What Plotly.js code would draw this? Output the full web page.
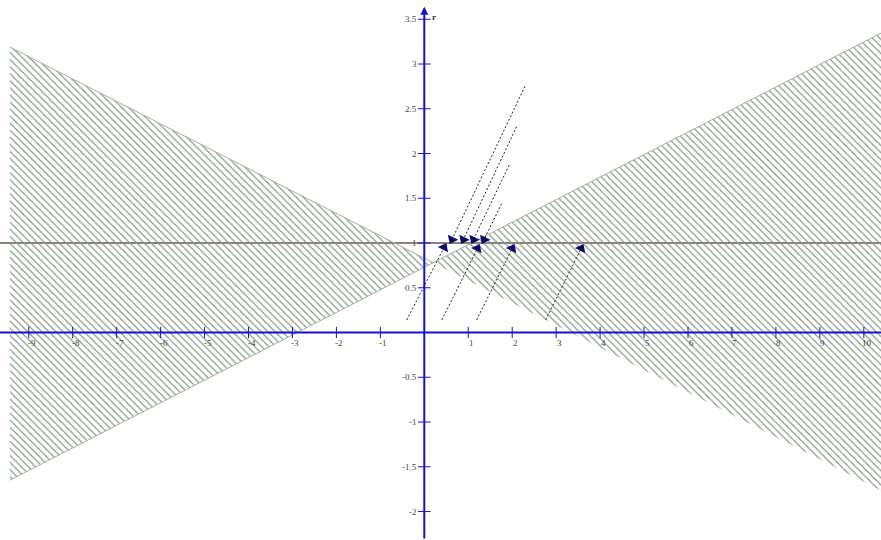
<!DOCTYPE html>
<html>
<head>
<meta charset="utf-8">
<script src="https://cdn.plot.ly/plotly-3.0.1.min.js"></script>
<style>
  html, body { margin: 0; padding: 0; background: #ffffff; }
  #chart { width: 881px; height: 540px; }
</style>
</head>
<body>
<div id="chart"></div>
<script>
// Visible window of the coordinate plane
const xRange = [-9.654, 10.391];
const yRange = [-2.318, 3.715];

// Hatched wedges between the two boundary lines
const leftWedgeX  = [-9.43, 0.2, -9.43];
const leftWedgeY  = [3.19, 0.78, -1.65];
const rightWedgeX = [0.2, 10.45, 10.45];
const rightWedgeY = [0.78, 3.36, -1.78];

// Horizontal level line
const levelY = [1];

// Dotted rays rising to the level line (start -> arrowhead)
const riseStartX = [-0.40, 0.40, 1.19, 2.76];
const riseStartY = [0.14, 0.14, 0.14, 0.14];
const riseHeadX  = [0.45, 1.21, 2.00, 3.57];
const riseHeadY  = [0.95, 0.94, 0.94, 0.94];

// Dotted rays falling to the level line (start -> arrowhead)
const fallStartX = [2.29, 2.10, 1.93, 1.76];
const fallStartY = [2.75, 2.30, 1.87, 1.44];
const fallHeadX  = [0.63, 0.89, 1.12, 1.36];
const fallHeadY  = [1.04, 1.04, 1.04, 1.04];

// Axis tick values and labels
const xTickVals   = [-9, -8, -7, -6, -5, -4, -3, -2, -1, 1, 2, 3, 4, 5, 6, 7, 8, 9, 10];
const xTickLabels = ['-9', '-8', '-7', '-6', '-5', '-4', '-3', '-2', '-1', '1', '2', '3', '4', '5', '6', '7', '8', '9', '10'];
const yTickVals   = [-2, -1.5, -1, -0.5, 0.5, 1, 1.5, 2, 2.5, 3, 3.5];
const yTickLabels = ['-2', '-1.5', '-1', '-0.5', '0.5', '1', '1.5', '2', '2.5', '3', '3.5'];

const AXIS_BLUE = '#1414c8';
const HATCH = '#7c967c';
const ARROW = '#0c0c6a';
const LABEL_FONT = { family: 'Liberation Serif, DejaVu Serif, serif', size: 9, color: '#444444' };

const traces = [];

function wedge(xs, ys) {
  return {
    type: 'scatter', mode: 'lines', x: xs, y: ys, fill: 'toself',
    line: { color: '#9fb29f', width: 1 },
    fillcolor: 'rgba(0,0,0,0)',
    fillpattern: { shape: '\\', fgcolor: HATCH, bgcolor: 'rgba(0,0,0,0)', size: 5, solidity: 0.22 },
    hoverinfo: 'skip', showlegend: false
  };
}
traces.push(wedge(leftWedgeX, leftWedgeY));
traces.push(wedge(rightWedgeX, rightWedgeY));

function ray(x0, y0, x1, y1) {
  return {
    type: 'scatter', mode: 'lines+markers', x: [x0, x1], y: [y0, y1],
    line: { color: '#222222', width: 1, dash: '2px,2px' },
    marker: { symbol: 'triangle-up', size: [0, 10], opacity: 1, color: ARROW, angleref: 'previous', line: { width: 0 } },
    hoverinfo: 'skip', showlegend: false
  };
}
for (let i = 0; i < riseHeadX.length; i++) traces.push(ray(riseStartX[i], riseStartY[i], riseHeadX[i], riseHeadY[i]));
for (let i = 0; i < fallHeadX.length; i++) traces.push(ray(fallStartX[i], fallStartY[i], fallHeadX[i], fallHeadY[i]));

// Tick marks crossing the axes
traces.push({
  type: 'scatter', mode: 'markers', x: xTickVals, y: xTickVals.map(() => 0),
  marker: { symbol: 'line-ns-open', size: 8, color: AXIS_BLUE, line: { color: AXIS_BLUE, width: 1 } },
  hoverinfo: 'skip', showlegend: false
});
traces.push({
  type: 'scatter', mode: 'markers', x: yTickVals.map(() => 0), y: yTickVals,
  marker: { symbol: 'line-ew-open', size: 9, color: AXIS_BLUE, line: { color: AXIS_BLUE, width: 1 } },
  hoverinfo: 'skip', showlegend: false
});

const annotations = [];
xTickVals.forEach((v, i) => annotations.push({
  x: v, y: 0, xref: 'x', yref: 'y', text: xTickLabels[i], showarrow: false,
  xanchor: 'center', yanchor: 'top', xshift: 3, yshift: -3, font: LABEL_FONT
}));
yTickVals.forEach((v, i) => annotations.push({
  x: 0, y: v, xref: 'x', yref: 'y', text: yTickLabels[i], showarrow: false,
  xanchor: 'right', yanchor: 'middle', xshift: -5, font: LABEL_FONT
}));
// Vertical axis with arrowhead and its name
annotations.push({
  x: 0, y: 3.64, xref: 'x', yref: 'y', ax: 0, ay: yRange[0], axref: 'x', ayref: 'y',
  text: '', showarrow: true, arrowhead: 2, arrowsize: 0.8, arrowwidth: 2, arrowcolor: AXIS_BLUE
});
annotations.push({
  x: 0, y: 3.52, xref: 'x', yref: 'y', text: '<b>r</b>', showarrow: false,
  xanchor: 'left', yanchor: 'middle', xshift: 6, font: { family: 'Liberation Serif, serif', size: 9, color: '#333333' }
});

const shapes = [
  { type: 'line', xref: 'paper', x0: 0, x1: 1, yref: 'y', y0: levelY[0], y1: levelY[0],
    line: { color: '#6e534e', width: 1.5 }, layer: 'below' },
  { type: 'line', xref: 'paper', x0: 0, x1: 1, yref: 'y', y0: 0, y1: 0,
    line: { color: AXIS_BLUE, width: 2 }, layer: 'above' }
];

const layout = {
  width: 881, height: 540,
  margin: { l: 0, r: 0, t: 0, b: 0, pad: 0 },
  paper_bgcolor: '#ffffff', plot_bgcolor: '#ffffff',
  showlegend: false,
  xaxis: { range: xRange, showgrid: false, zeroline: false, showticklabels: false, ticks: '', showline: false, fixedrange: true },
  yaxis: { range: yRange, showgrid: false, zeroline: false, showticklabels: false, ticks: '', showline: false, fixedrange: true },
  shapes: shapes,
  annotations: annotations
};

Plotly.newPlot('chart', traces, layout, { displayModeBar: false, staticPlot: true });
</script>
</body>
</html>
